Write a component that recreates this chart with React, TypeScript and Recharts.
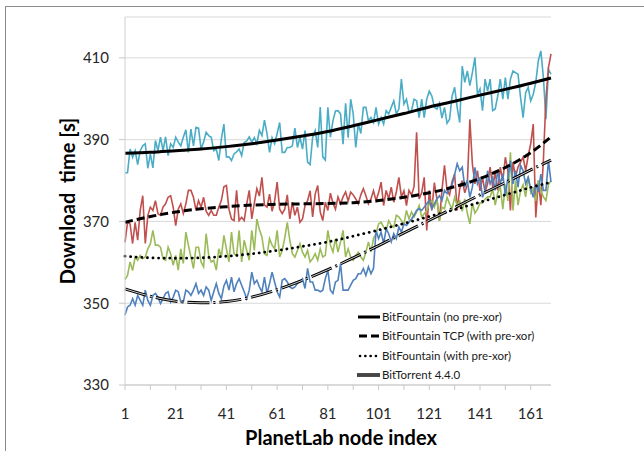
import { CartesianGrid, Label, Legend, Line, LineChart, XAxis, YAxis } from "recharts";

const FONT = "Lato, 'Open Sans', sans-serif";

// download time per PlanetLab node, seconds (node index = position + 1)
const noPreXor = [
  381.9, 381.9, 387.7, 385.7, 387.3, 383.9, 387.3, 388.5, 389, 383,
  386.5, 383.1, 389.8, 387.3, 390.6, 387.3, 390.7, 386.1, 389, 388.1,
  390.6, 389.4, 388.5, 390.6, 392.4, 386.9, 392.6, 388.5, 393, 392.8,
  387.7, 389.4, 391.8, 391, 390.6, 387.3, 387.7, 384.9, 390.2, 393.8,
  385.8, 385.8, 384.9, 386.5, 387, 387.7, 386.1, 389.3, 389.7, 390.7,
  389.4, 390.5, 389, 392.3,
  391, 394.8, 391.5, 386.9, 390.5, 389, 391.5, 394.2, 386.9, 386.9,
  388.1, 388.1, 388.5, 392.8, 388.1, 390.6, 387.7, 392.2, 384.5, 383.9,
  390.6, 392.2, 388.1, 398, 385.8, 385, 397.9, 390.6, 394.6, 397,
  397.1, 396.3, 388.9, 398.9, 390.5, 399.9, 396.3, 388.1, 393.8, 391.5,
  397.9, 397.9, 394.6, 395.4, 394.2, 397.9, 393.8, 395.4, 393.8, 397.1,
  396.3, 397.9, 399.5, 396.3, 397.5, 404.8, 398.7, 399.9, 396.7, 397.1,
  399.9, 399.5, 395.4, 399.9, 395.4, 399.9, 401.9, 400.7, 397.9, 397.5,
  398.9, 395.3, 397.9, 394, 395, 400.7, 402.8, 397.9, 394.2, 408,
  404, 406.8, 403.2, 406.4, 410.1, 401.1, 402.4, 397.1, 404.8, 401.9,
  404.8, 397.1, 397.5, 400.7, 404.8, 399.9, 405.2, 399.9, 404.8, 406.8,
  406.4, 406, 400.3, 395.4, 401.5, 402.8, 399.5,
  401.1, 404, 409.3, 411.7, 405.2, 395, 407.2, 406,
];

const tcpWithPreXor = [
  364.9, 369.8, 369.4, 364.6, 369.8, 365.4, 372.7, 376.3, 364.6, 371.5,
  373.5, 372.7, 375.1, 371.9, 371.5, 373.5, 374.3, 375.9, 376.3, 373.5,
  369, 373, 374.3, 371.9, 374.3, 377.6, 377.6, 375.9, 372.7, 375.1,
  373.5, 375.9, 372.5, 371.5, 372.7, 371.5, 371.5, 373.5, 375.1, 378.5,
  378.8, 373, 370.6, 370.2, 377.6, 370.2, 371, 370.2, 374.3, 377.6,
  370.6, 374.5, 378, 376.2,
  380.8, 374, 373.5, 376.7, 372.5, 375, 379.6, 373, 371.9, 373,
  376.5, 370.6, 374.7, 371.5, 373.5, 369.8, 370.6, 373.9, 375.1, 377.5,
  371.1, 376.7, 378.8, 372.3, 370.2, 374.7, 372.7, 376.9, 374.5, 373,
  376, 374.3, 376, 377.2, 375, 377.2, 376.5, 375.5, 374.3, 376.5,
  378, 376.3, 374.3, 375.5, 377.5, 375.1, 377, 379.6, 373.9, 377.6,
  375.5, 378.4, 374.7, 377.2, 380.8, 376, 377.5, 373.9, 377.6, 376.5,
  378.5, 391.8, 375.5, 377, 380.8, 367.8, 377.6, 372.7, 379.5, 375.5,
  370.2, 377.6, 383.7, 377.6, 376.5, 379.8, 381.6, 372.7, 378, 380,
  377, 379, 395, 384, 379.2, 382.4, 377.5, 380.8, 377.2, 379.2,
  383.3, 378.4, 382, 377.6, 383.3, 380, 385.7, 382.4, 372.7, 384.5,
  380.8, 383.3, 384.5, 385.7, 382.4, 386, 389,
  393.8, 371, 380, 374, 385, 400, 407.6, 411,
];

const withPreXor = [
  355.8, 356.8, 360.1, 358, 361.3, 360.5, 361.7, 360.9, 361.3, 363.3,
  364.5, 367.8, 364.2, 364.2, 363.7, 360.9, 360.5, 363.7, 362.1, 359.3,
  361.7, 358.1, 363.3, 359.7, 367.4, 364.2, 361.3, 358.5, 363.7, 363.7,
  360.1, 358.9, 367, 361.7, 360.1, 360.5, 358.1, 363.3, 361.3, 366.6,
  363.3, 360.1, 367.4, 362.1, 361.7, 367.8, 360.1, 365.4, 362.9, 360.5,
  367.8, 362.9, 370.6, 368,
  366.2, 362.1, 361.7, 365.8, 364.2, 363.3, 367.8, 361.3, 362.9, 366,
  369.8, 365.4, 362.1, 361.3, 362.9, 364.6, 362.5, 361.3, 362.9, 360.1,
  360.9, 362.1, 360.5, 363.3, 361.3, 361.7, 367.8, 364.2, 362.5, 365.8,
  362.5, 365, 367.8, 361.3, 363.3, 361.3, 360.5, 361.7, 362.5, 361.3,
  360.5, 362.5, 365, 362.5, 365.8, 367, 369.4, 369.8, 368.6, 367.8,
  370.2, 369, 368.6, 371.5, 371.1, 370.2, 369.4, 372.7, 370.6, 372.3,
  371.1, 372.3, 373.9, 371.1, 371.9, 372.7, 374.3, 375.1, 373.5, 375.5,
  370.2, 373.5, 373.1, 375.9, 374.3, 373.1, 375.9, 373.9, 375, 372.5,
  375.5, 372, 369.4, 374.5, 372, 373, 374.5, 374.5, 375.5, 376,
  376, 378, 374, 377, 378.5, 373, 379, 375, 386.9, 372.7,
  380, 374, 377.5, 379, 376, 381, 377,
  378, 375, 380, 377.5, 376, 375.1, 379, 380,
];

const bitTorrent = [
  347.1, 349.1, 349.5, 351.1, 349.5, 351.9, 350.7, 349.5, 353.2, 350.7,
  349.5, 351.9, 352.4, 351.5, 349.9, 351.1, 352.4, 352.8, 350.3, 351.5,
  353.2, 352.8, 350.3, 350.3, 353.2, 352.8, 351.9, 353.2, 354.8, 352.4,
  353.2, 351.9, 354, 353.2, 350.7, 352.8, 354.8, 352.4, 351.1, 354.2,
  355.6, 353.2, 356.4, 352.8, 354.8, 356, 354.4, 352.8, 351.1, 353.2,
  357.6, 354.8, 355.6, 354,
  352.8, 356.4, 352.4, 354.8, 357.6, 355.2, 352.8, 351.5, 355.6, 356,
  355.2, 354, 353.6, 354, 354.8, 355.2, 356, 353.6, 358.5, 355.2,
  355.2, 353.2, 353.2, 352.8, 353.2, 356, 358.1, 353.2, 352.4, 355.2,
  355.6, 359.7, 353.2, 353.2, 353.2, 354.4, 355.6, 356, 357.2, 357.2,
  358.5, 356.8, 358.9, 357.2, 358.5, 367.8, 365.8, 367.4, 364.6, 368.2,
  367, 365, 367, 365.8, 368.6, 367.4, 369.4, 369, 369.8, 370.6,
  371.5, 372.7, 373.1, 372.7, 373.5, 374.3, 375.1, 373.1, 374.3, 375.5,
  376.3, 375.1, 377.6, 376.8, 378, 379, 381.5, 384.1, 382.4, 383.3,
  378.4, 380, 375.9, 378.4, 383.2, 379.2, 380.8, 375.9, 377.6, 382.4,
  379.2, 380.8, 377.6, 382.4, 379.2, 381.6, 376.4, 380.8, 384.9, 379.2,
  382.4, 378.4, 383.7, 382.4, 379.2, 380.8, 378,
  375.9, 379.2, 377.2, 381.6, 377.6, 377.6, 384.9, 379.6,
];

// polynomial trend lines, read at every 10th node
const trendNodes = [1, 11, 21, 31, 41, 51, 61, 71, 81, 91, 101, 111, 121, 131, 141, 151, 161, 169];
const trendNoPreXor = [386.7, 386.9, 387.3, 387.7, 388.3, 389.0, 389.9, 390.9, 392.0, 393.4, 394.9, 396.4, 398.0, 399.4, 400.9, 402.3, 403.8, 405.1];
const trendTcp = [369.8, 371.2, 372.3, 373.1, 373.6, 374.0, 374.2, 374.3, 374.4, 374.6, 375.1, 375.9, 377.0, 378.5, 380.5, 383.2, 386.8, 390.7];
const trendPreXor = [361.5, 361.1, 361.0, 361.1, 361.5, 362.1, 362.9, 363.9, 365.0, 366.4, 367.9, 369.5, 371.2, 372.9, 374.7, 376.5, 378.3, 379.6];
const trendBitTorrent = [353.5, 351.7, 350.5, 350.1, 350.4, 351.5, 353.3, 355.6, 358.2, 361.1, 364.1, 367.2, 370.3, 373.4, 376.5, 379.5, 382.6, 385.0];

const xTicks = [1, 11, 21, 31, 41, 51, 61, 71, 81, 91, 101, 111, 121, 131, 141, 151, 161];
const yTicks = [330, 350, 370, 390, 410];

const legendItems = [
  { label: "BitFountain (no pre-xor)", kind: "solid" },
  { label: "BitFountain TCP (with pre-xor)", kind: "dashed" },
  { label: "BitFountain (with pre-xor)", kind: "dotted" },
  { label: "BitTorrent 4.4.0", kind: "double" },
];

const BT_DASH = "22 4 2 4";

const data = noPreXor.map((v, i) => {
  const node = i + 1;
  const t = trendNodes.indexOf(node);
  return {
    node,
    noPreXor: v,
    tcp: tcpWithPreXor[i],
    preXor: withPreXor[i],
    bt: bitTorrent[i],
    tNoPreXor: t >= 0 ? trendNoPreXor[t] : null,
    tTcp: t >= 0 ? trendTcp[t] : null,
    tPreXor: t >= 0 ? trendPreXor[t] : null,
    tBt: t >= 0 ? trendBitTorrent[t] : null,
  };
});

function XTick(props: any) {
  const { x, y, payload } = props;
  if ((payload.value - 1) % 20 !== 0) return <g />;
  return (
    <text x={x} y={y} dy="0.71em" textAnchor="middle" fill="#262626" fontSize={15} fontFamily={FONT}>
      {payload.value}
    </text>
  );
}

function LegendIcon({ kind }: { kind: string }) {
  return (
    <svg width={24} height={10} style={{ marginRight: 1, flexShrink: 0 }}>
      {kind === "solid" && <line x1={1} y1={5} x2={23} y2={5} stroke="#000" strokeWidth={3} />}
      {kind === "dashed" && (
        <line x1={2} y1={5} x2={23} y2={5} stroke="#000" strokeWidth={3} strokeDasharray="8 4" />
      )}
      {kind === "dotted" && (
        <line x1={3} y1={5} x2={23} y2={5} stroke="#000" strokeWidth={2.6} strokeDasharray="0.1 5.2" strokeLinecap="round" />
      )}
      {kind === "double" && (
        <>
          <line x1={0} y1={5} x2={23} y2={5} stroke="#000" strokeWidth={3.4} />
          <line x1={0} y1={5} x2={23} y2={5} stroke="#8a8a8a" strokeWidth={1} />
        </>
      )}
    </svg>
  );
}

function LegendBox() {
  return (
    <div style={{ fontFamily: FONT, fontSize: 11.5, color: "#1a1a1a", lineHeight: "19.4px" }}>
      {legendItems.map((it) => (
        <div key={it.label} style={{ display: "flex", alignItems: "center", whiteSpace: "nowrap" }}>
          <LegendIcon kind={it.kind} />
          <span>{it.label}</span>
        </div>
      ))}
    </div>
  );
}

export default function App() {
  return (
    <div style={{ position: "absolute", left: 0, top: 0, width: 644, height: 451, overflow: "hidden", background: "#fff" }}>
      <div
        style={{
          position: "absolute",
          left: 5,
          top: 6,
          width: 639,
          height: 445,
          borderLeft: "1px solid #8c8c8c",
          borderTop: "1px solid #8c8c8c",
        }}
      />
      <div style={{ position: "absolute", left: 0, top: 0 }}>
        <LineChart width={644} height={451} data={data} margin={{ top: 17, right: 93, bottom: 26, left: 65 }}>
          <CartesianGrid horizontal vertical={false} stroke="#d9d9d9" />
          <XAxis
            dataKey="node"
            type="number"
            domain={[1, 169]}
            ticks={xTicks}
            interval={0}
            height={40}
            tick={<XTick />}
            tickSize={5}
            tickMargin={18}
            axisLine={{ stroke: "#c8c8c8" }}
            tickLine={{ stroke: "#c8c8c8" }}
          >
            <Label
              content={() => (
                <text x={341} y={438} dy="0.35em" textAnchor="middle" fontFamily={FONT} fontWeight={700} fontSize={20} fill="#000">
                  PlanetLab node index
                </text>
              )}
            />
          </XAxis>
          <YAxis
            type="number"
            domain={[330, 420]}
            ticks={yTicks}
            width={60}
            tickSize={6}
            tickMargin={10}
            tick={{ fill: "#262626", fontSize: 15, fontFamily: FONT }}
            axisLine={{ stroke: "#d0d0d0" }}
            tickLine={{ stroke: "#c8c8c8" }}
          >
            <Label
              content={() => (
                <text
                  x={68}
                  y={201}
                  dy="0.35em"
                  textAnchor="middle"
                  transform="rotate(-90 68 201)"
                  fontFamily={FONT}
                  fontWeight={700}
                  fontSize={20}
                  fill="#000"
                  style={{ whiteSpace: "pre" }}
                >
                  {"Download  time [s]"}
                </text>
              )}
            />
          </YAxis>
          <Legend
            layout="horizontal"
            verticalAlign="middle"
            align="center"
            content={() => <LegendBox />}
            wrapperStyle={{ left: 357, top: 307, width: 200 }}
          />
          <Line dataKey="noPreXor" stroke="#4BACC6" strokeWidth={1.6} dot={false} type="linear" isAnimationActive={false} />
          <Line dataKey="tcp" stroke="#C0504D" strokeWidth={1.6} dot={false} type="linear" isAnimationActive={false} />
          <Line dataKey="preXor" stroke="#9BBB59" strokeWidth={1.6} dot={false} type="linear" isAnimationActive={false} />
          <Line dataKey="bt" stroke="#4F81BD" strokeWidth={1.6} dot={false} type="linear" isAnimationActive={false} />
          <Line dataKey="tNoPreXor" stroke="#000" strokeWidth={3} dot={false} type="monotone" connectNulls isAnimationActive={false} />
          <Line dataKey="tTcp" stroke="#000" strokeWidth={3} strokeDasharray="8 4" dot={false} type="monotone" connectNulls isAnimationActive={false} />
          <Line
            dataKey="tPreXor"
            stroke="#000"
            strokeWidth={2.8}
            strokeDasharray="0.1 5.5"
            strokeLinecap="round"
            dot={false}
            type="monotone"
            connectNulls
            isAnimationActive={false}
          />
          <Line dataKey="tBt" stroke="#000" strokeWidth={3} strokeDasharray={BT_DASH} dot={false} type="monotone" connectNulls isAnimationActive={false} />
          <Line dataKey="tBt" stroke="#fff" strokeWidth={0.8} strokeDasharray={BT_DASH} dot={false} type="monotone" connectNulls isAnimationActive={false} legendType="none" />
        </LineChart>
      </div>
    </div>
  );
}
